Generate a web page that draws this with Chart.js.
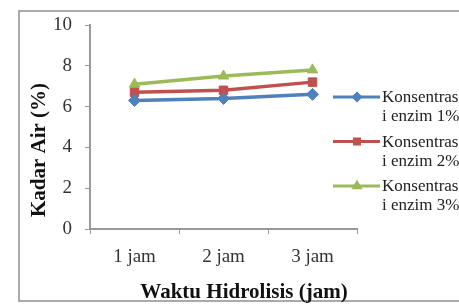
<!DOCTYPE html>
<html>
<head>
<meta charset="utf-8">
<script src="https://cdn.jsdelivr.net/npm/chart.js@4"></script>
<style>
  body { margin: 0; background: #fff; }
  #bingkai { position: absolute; left: 18px; top: 10px; width: 460px; height: 292px; border: 2px solid #aaa; box-sizing: border-box; }
  #grafik { position: absolute; left: 0; top: 0; }
</style>
</head>
<body>
<div id="bingkai"></div>
<canvas id="grafik" width="459" height="305"></canvas>
<script>
// Data grafik kadar air
const kategori = ['1 jam', '2 jam', '3 jam'];
const enzim1 = [6.3, 6.4, 6.6];
const enzim2 = [6.7, 6.8, 7.2];
const enzim3 = [7.1, 7.5, 7.8];
const labelSeri = [['Konsentras', 'i enzim 1%'], ['Konsentras', 'i enzim 2%'], ['Konsentras', 'i enzim 3%']];
const tickY = [0, 2, 4, 6, 8, 10];

const warna = ['#4F81BD', '#C0504D', '#9BBB59'];
const bentuk = ['rectRot', 'rect', 'triangle'];

// Legenda dan judul sumbu digambar manual
const legendaManual = {
  id: 'legendaManual',
  afterDraw(chart) {
    const ctx = chart.ctx;
    ctx.save();
    chart.data.datasets.forEach(function(ds, i) {
      const y0 = 97 + i * 44.5;
      ctx.strokeStyle = ds.borderColor;
      ctx.lineWidth = 3;
      ctx.beginPath();
      ctx.moveTo(333, y0);
      ctx.lineTo(380, y0);
      ctx.stroke();
      ctx.fillStyle = ds.borderColor;
      Chart.helpers.drawPoint(ctx, { pointStyle: ds.pointStyle, radius: 3.5, borderWidth: 1 }, 357, y0);
      ctx.fill();
      ctx.fillStyle = '#222';
      ctx.font = '17px "Liberation Serif", serif';
      ctx.textBaseline = 'middle';
      ctx.textAlign = 'left';
      ds.label.forEach(function(baris, j) {
        ctx.fillText(baris, 382, y0 + 1 + j * 19);
      });
    });
    ctx.fillStyle = '#111';
    ctx.font = 'bold 21px "Liberation Serif", serif';
    ctx.textAlign = 'center';
    ctx.textBaseline = 'middle';
    ctx.fillText('Waktu Hidrolisis (jam)', 244, 293);
    ctx.translate(40, 150);
    ctx.rotate(-Math.PI / 2);
    ctx.fillText('Kadar Air (%)', 0, 0);
    ctx.restore();
  }
};

const datasets = [enzim1, enzim2, enzim3].map(function(d, i) {
  return {
    label: labelSeri[i],
    data: d,
    borderColor: warna[i],
    backgroundColor: warna[i],
    borderWidth: 3.5,
    pointStyle: bentuk[i],
    pointRadius: 6,
    pointBorderWidth: 1,
    tension: 0
  };
});

const ctx = document.getElementById('grafik').getContext('2d');
const grafik = new Chart(ctx, {
  type: 'line',
  data: { labels: kategori, datasets: datasets },
  options: {
    responsive: false,
    devicePixelRatio: 1,
    animation: false,
    layout: { padding: { top: 25, right: 102, left: 0, bottom: 0 } },
    plugins: { legend: { display: false }, tooltip: { enabled: false } },
    scales: {
      x: {
        offset: true,
        grid: { offset: true, drawOnChartArea: false, tickLength: 5, color: '#999' },
        border: { color: '#999', width: 2 },
        ticks: { font: { family: '"Liberation Serif", serif', size: 19 }, color: '#333', padding: 12 },
        afterFit(scale) { scale.height = 76; }
      },
      y: {
        min: 0,
        max: 10,
        afterBuildTicks(scale) { scale.ticks = tickY.map(function(v) { return { value: v }; }); },
        grid: { drawOnChartArea: false, tickLength: 5, color: '#999' },
        border: { color: '#999', width: 2 },
        ticks: { font: { family: '"Liberation Serif", serif', size: 19 }, color: '#333', padding: 13 },
        afterFit(scale) { scale.width = 90; }
      }
    }
  },
  plugins: [legendaManual]
});
</script>
</body>
</html>
